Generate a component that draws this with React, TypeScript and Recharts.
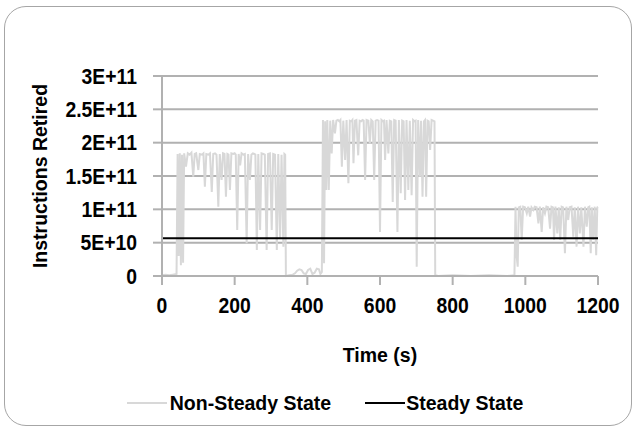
import { CartesianGrid, Legend, Line, LineChart, XAxis, YAxis } from "recharts";

const FONT = '"Liberation Sans", Arial, sans-serif';

// time (s) of each sample
const TIME_S = [
  0, 10, 20, 30, 40, 43, 46, 49, 52, 55, 58, 61, 66, 71, 76, 81, 86, 90, 94, 100,
  104, 110, 114, 118, 122, 128, 132, 137, 141, 146, 150, 155, 159, 164, 168, 172, 176, 180, 183, 187,
  191, 196, 200, 203, 207, 211, 215, 219, 224, 228, 233, 237, 242, 246, 250, 254, 257, 261, 265, 270,
  274, 279, 283, 288, 292, 297, 302, 306, 311, 316, 320, 325, 329, 334, 337, 339, 341,
  350, 360, 366, 372, 378, 384, 390, 396, 402, 408, 414, 420, 426, 432, 436, 440,
  443, 446, 449, 452, 455, 459, 463, 467, 471, 476, 480, 484, 488, 491, 495, 499, 504, 508, 513, 517,
  521, 524, 527, 531, 535, 540, 544, 548, 552, 555, 559, 563, 568, 572, 576, 580, 584, 588, 592, 596,
  600, 604, 608, 611, 614, 618, 623, 627, 631, 635, 639, 643, 648, 652, 657, 661, 665, 669, 673, 678,
  682, 687, 691, 695, 698, 701, 705, 710, 713, 717, 721, 724, 727, 731, 734, 738, 742, 746, 750, 752,
  760, 800, 850, 900, 950, 970,
  973, 976, 979, 982, 986, 990, 994, 999, 1004, 1008, 1013, 1017, 1022, 1026, 1031, 1036, 1040, 1045, 1049, 1054,
  1058, 1063, 1068, 1072, 1076, 1079, 1083, 1088, 1092, 1096, 1100, 1104, 1109, 1113, 1118, 1122, 1127, 1132, 1136, 1141,
  1145, 1150, 1154, 1160, 1164, 1169, 1173, 1176, 1180, 1183, 1187, 1191, 1195, 1198, 1200,
];

// instructions retired, in units of 1e9
const NON_STEADY_E9 = [
  1, 2, 1, 2, 3, 183, 30, 184, 16, 182, 20, 184, 164, 184, 182, 185, 149, 183, 184, 159,
  183, 182, 184, 134, 183, 182, 184, 126, 183, 184, 182, 104, 183, 144, 184, 183, 119, 183, 182, 129,
  184, 183, 184, 182, 69, 183, 166, 184, 182, 183, 49, 183, 144, 182, 184, 183, 182, 39, 183, 69,
  184, 183, 182, 39, 183, 184, 69, 183, 182, 39, 183, 56, 182, 44, 183, 182, 0,
  1, 2, 4, 8, 10, 9, 4, 3, 9, 11, 3, 5, 11, 10, 3, 6,
  234, 19, 232, 129, 234, 129, 233, 184, 234, 214, 233, 234, 232, 234, 164, 233, 174, 234, 139, 233,
  232, 234, 169, 233, 234, 181, 233, 232, 234, 233, 144, 234, 233, 199, 234, 232, 144, 233, 234, 233,
  66, 234, 232, 233, 174, 234, 184, 233, 232, 111, 234, 233, 66, 234, 124, 233, 232, 114, 234, 129,
  233, 121, 234, 232, 233, 14, 234, 149, 233, 119, 232, 234, 119, 233, 232, 189, 234, 233, 232, 1,
  0, 1, 0, 1, 0, 1,
  104, 30, 14, 103, 104, 54, 104, 103, 94, 104, 89, 103, 99, 104, 103, 79, 104, 66, 103, 94,
  104, 103, 71, 104, 103, 54, 104, 64, 103, 54, 104, 103, 34, 104, 84, 103, 104, 59, 103, 44,
  104, 64, 103, 44, 104, 74, 103, 104, 34, 103, 54, 104, 31, 103, 104,
];

const STEADY_STATE = 5.65e10;

const SERIES_NAMES = ["Non-Steady State", "Steady State"];
const SERIES_COLORS = ["#d8d8d8", "#000000"];

const X_TICKS = [0, 200, 400, 600, 800, 1000, 1200];
const Y_TICKS = [0, 5e10, 1e11, 1.5e11, 2e11, 2.5e11, 3e11];
const Y_TICK_LABELS = ["0", "5E+10", "1E+11", "1.5E+11", "2E+11", "2.5E+11", "3E+11"];

const data = TIME_S.map((t, i) => ({
  time: t,
  nonSteady: NON_STEADY_E9[i] * 1e9,
  steady: STEADY_STATE,
}));

const GRID = "#b1b1b1";
const labelStyle = { fontSize: 19.5, fontWeight: 700, fill: "#000", fontFamily: FONT };

// slightly condensed bold tick text
function XTick({ x, y, payload }: any) {
  return (
    <text
      transform={`translate(${x},${y}) scale(0.9,1)`}
      textAnchor="middle"
      dy="0.71em"
      fontSize={21.5}
      fontWeight={700}
      fontFamily={FONT}
      fill="#000"
    >
      {payload.value}
    </text>
  );
}

function YTick({ x, y, payload }: any) {
  const label = Y_TICK_LABELS[Y_TICKS.indexOf(payload.value)] ?? String(payload.value);
  return (
    <text
      transform={`translate(${x},${y}) scale(0.9,1)`}
      textAnchor="end"
      dy="0.36em"
      fontSize={21.5}
      fontWeight={700}
      fontFamily={FONT}
      fill="#000"
    >
      {label}
    </text>
  );
}

function LegendContent(props: any) {
  const payload = props.payload || [];
  return (
    <div
      style={{
        display: "flex",
        justifyContent: "center",
        alignItems: "center",
        gap: 34,
        fontFamily: FONT,
        fontWeight: 700,
        fontSize: 19.5,
        color: "#000",
        lineHeight: "24px",
      }}
    >
      {payload.map((p: any, i: number) => (
        <div key={p.value} style={{ display: "flex", alignItems: "center" }}>
          <svg width={40} height={4} style={{ marginRight: i === 0 ? 3 : 1 }}>
            <line x1={0} x2={40} y1={2} y2={2} stroke={p.color} strokeWidth={2} />
          </svg>
          <span>{p.value}</span>
        </div>
      ))}
    </div>
  );
}

export default function App() {
  return (
    <div style={{ position: "absolute", left: 0, top: 0, width: 636, height: 429, background: "#fff" }}>
      <div
        style={{
          position: "absolute",
          left: 4,
          top: 6,
          width: 628,
          height: 420,
          border: "1.5px solid #a6a6a6",
          borderRadius: 22,
          boxSizing: "border-box",
          pointerEvents: "none",
        }}
      />
      <LineChart
        width={636}
        height={429}
        data={data}
        margin={{ top: 76, right: 38, left: 10, bottom: 14 }}
      >
        <CartesianGrid vertical={false} stroke={GRID} strokeWidth={2} />
        <XAxis
          dataKey="time"
          type="number"
          domain={[0, 1200]}
          ticks={X_TICKS}
          stroke={GRID}
          strokeWidth={2}
          tick={<XTick />}
          tickSize={9}
          tickMargin={13}
          height={115}
          label={{ value: "Time (s)", position: "insideTop", offset: 72, style: labelStyle }}
        />
        <YAxis
          type="number"
          domain={[0, 3e11]}
          ticks={Y_TICKS}
          stroke={GRID}
          strokeWidth={2}
          tick={<YTick />}
          tickSize={9}
          tickMargin={16}
          width={152}
          label={{
            value: "Instructions Retired",
            angle: -90,
            position: "insideLeft",
            offset: 30,
            style: { ...labelStyle, textAnchor: "middle" },
          }}
        />
        <Legend verticalAlign="bottom" content={LegendContent} wrapperStyle={{ left: 0, width: 650 }} />
        <Line
          dataKey="nonSteady"
          name={SERIES_NAMES[0]}
          stroke={SERIES_COLORS[0]}
          strokeWidth={2}
          dot={false}
          isAnimationActive={false}
        />
        <Line
          dataKey="steady"
          name={SERIES_NAMES[1]}
          stroke={SERIES_COLORS[1]}
          strokeWidth={2}
          dot={false}
          isAnimationActive={false}
        />
      </LineChart>
    </div>
  );
}
